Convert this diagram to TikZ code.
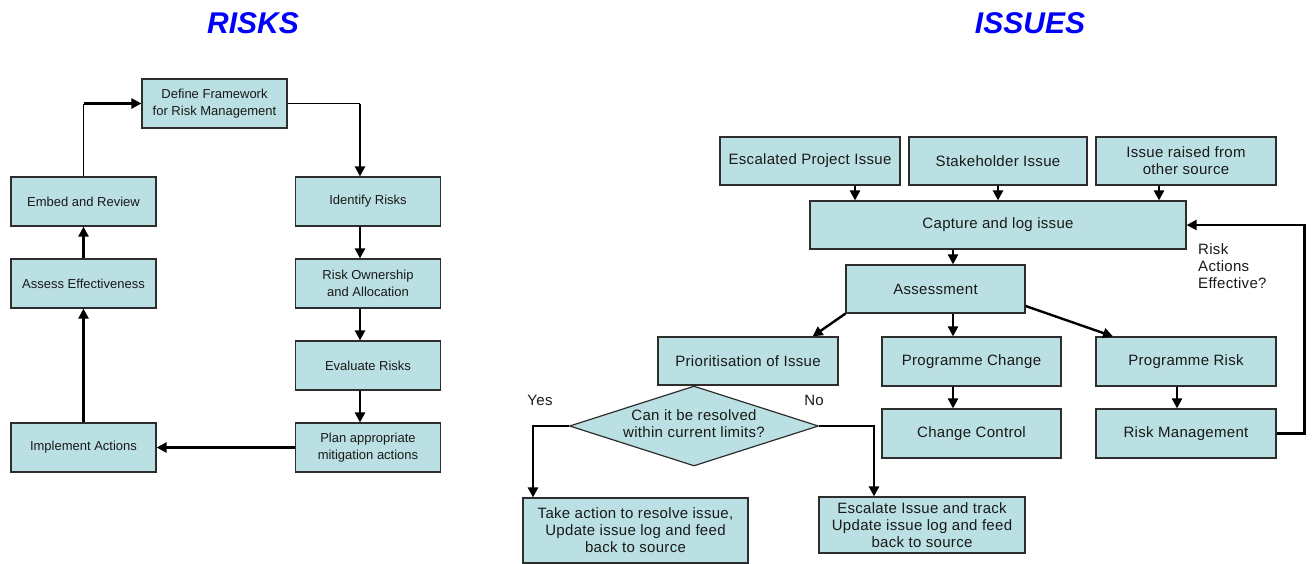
\documentclass[tikz,border=0pt]{standalone}
\usepackage{fontspec}
\setmainfont{Liberation Sans}
\newfontfamily\spacedsans[LetterSpace=2]{Liberation Sans}
\usepackage{tikz}
\usetikzlibrary{positioning}
\usetikzlibrary{arrows.meta,shapes.geometric}
\definecolor{boxfill}{RGB}{187,224,227}
\definecolor{boxline}{RGB}{45,45,45}
\definecolor{titleblue}{RGB}{0,0,250}

\begin{document}
\begin{tikzpicture}[x=1pt,y=-1pt,align=center,
    box/.style={draw=boxline,fill=boxfill,line width=1.2pt,inner sep=0pt,text=black!90},
    rbox/.style={box,font=\fontsize{13}{17}\selectfont,minimum width=145pt,minimum height=49pt},
    ibox/.style={box,font=\spacedsans\fontsize{15}{17}\selectfont,minimum width=180pt,minimum height=48pt},
    cond/.style={ibox,diamond,minimum width=249pt,minimum height=80pt},
    arr/.style={-{Triangle[length=10pt,width=10pt]},line width=2.4pt},
    lnk/.style={line width=1.2pt},
    lbl/.style={font=\spacedsans\fontsize{15}{17}\selectfont,text=black!90,inner sep=0pt},
    title/.style={font=\fontsize{30}{36}\selectfont\bfseries\itshape,text=titleblue}]
    \useasboundingbox (0,0) rectangle (1314,563);
    % risks
    \node[title] (T1) at (253,23) {RISKS};
    \node[rbox] (R1) at (214.5,103.5) {Define Framework\\for Risk Management};
    \node[rbox] (R2) at (368,201.5) {Identify Risks};
    \node[rbox] (R3) at (368,283.5) {Risk Ownership\\and Allocation};
    \node[rbox] (R4) at (368,365.5) {Evaluate Risks};
    \node[rbox] (R5) at (368,447.5) {Plan appropriate\\mitigation actions};
    \node[rbox] (R6) at (83.5,447.5) {Implement Actions};
    \node[rbox] (R7) at (83.5,283.5) {Assess Effectiveness};
    \node[rbox] (R8) at (83.5,201.5) {Embed and Review};
    \coordinate (c1) at (R8.north |- R1.west);
    \coordinate (c2) at (360,103.5);
    \draw[lnk] (R8.north) -- (c1);
    \draw[arr] (c1) -- (R1.west);
    \draw[lnk] (R1.east) -- (c2);
    \draw[arr] (c2) -- ([xshift=-8pt]R2.north);
    \draw[arr] ([xshift=-8pt]R2.south) -- ([xshift=-8pt]R3.north);
    \draw[arr] ([xshift=-8pt]R3.south) -- ([xshift=-8pt]R4.north);
    \draw[arr] ([xshift=-8pt]R4.south) -- ([xshift=-8pt]R5.north);
    \draw[arr] (R5.west) -- (R6.east);
    \draw[arr] (R6.north) -- (R7.south);
    \draw[arr] (R7.north) -- (R8.south);
    % issues
    \node[title] (T2) at (1030,23) {ISSUES};
    \node[ibox] (S1) at (810,161) {Escalated Project Issue};
    \node[ibox,minimum width=178pt] (S2) at (998,161) {Stakeholder Issue};
    \node[ibox] (S3) at (1186,161) {Issue raised from\\other source};
    \node[ibox,minimum width=376pt] (S4) at (998,225) {Capture and log issue};
    \node[ibox,minimum width=179pt] (S5) at (935.5,289) {Assessment};
    \node[ibox] (S6) at (748,361) {Prioritisation of Issue};
    \node[ibox,minimum width=179pt,minimum height=49pt] (S7) at (971.5,361.5) {Programme Change};
    \node[ibox,minimum height=49pt] (S8) at (1186,361.5) {Programme Risk};
    \node[ibox,minimum width=179pt,minimum height=49pt] (S9) at (971.5,433.5) {Change Control};
    \node[ibox,minimum height=49pt] (S10) at (1186,433.5) {Risk Management};
    \node[cond] (S11) at (694,426) {\makebox[0pt]{\begin{tabular}{@{}c@{}}Can it be resolved\\within current limits?\end{tabular}}};
    \node[ibox,minimum width=225pt,minimum height=65pt] (S12) at (635.5,530.5) {Take action to resolve issue,\\Update issue log and feed\\back to source};
    \node[ibox,minimum width=206pt,minimum height=56pt] (S13) at (922,525) {Escalate Issue and track\\Update issue log and feed\\back to source};
    \node[lbl,anchor=west,align=left] (L1) at (1198,266) {Risk\\Actions\\Effective?};
    \node[lbl] (L2) at (540,400) {Yes};
    \node[lbl] (L3) at (814,400) {No};
    \draw[arr] ([xshift=45pt]S1.south) -- ([xshift=-143pt]S4.north);
    \draw[arr] (S2.south) -- (S4.north);
    \draw[arr] ([xshift=-27pt]S3.south) -- ([xshift=161pt]S4.north);
    \draw[arr] ([xshift=-45pt]S4.south) -- ([xshift=17.5pt]S5.north);
    \draw[arr] (S5.south west) -- ([xshift=-26pt]S6.north east);
    \draw[arr] ([xshift=17.5pt]S5.south) -- ([xshift=-18.5pt]S7.north);
    \draw[arr] ([yshift=-17pt]S5.east) -- ([xshift=-73pt]S8.north);
    \draw[arr] ([xshift=-18.5pt]S7.south) -- ([xshift=-18.5pt]S9.north);
    \draw[arr] ([xshift=-9pt]S8.south) -- ([xshift=-9pt]S10.north);
    \draw[arr] (S10.east) -- ++(28,0) |- (S4.east);
    \draw[arr] (S11.west) -| ([xshift=-102.5pt]S12.north);
    \draw[arr] (S11.east) -| ([xshift=-48pt]S13.north);
\end{tikzpicture}
\end{document}
